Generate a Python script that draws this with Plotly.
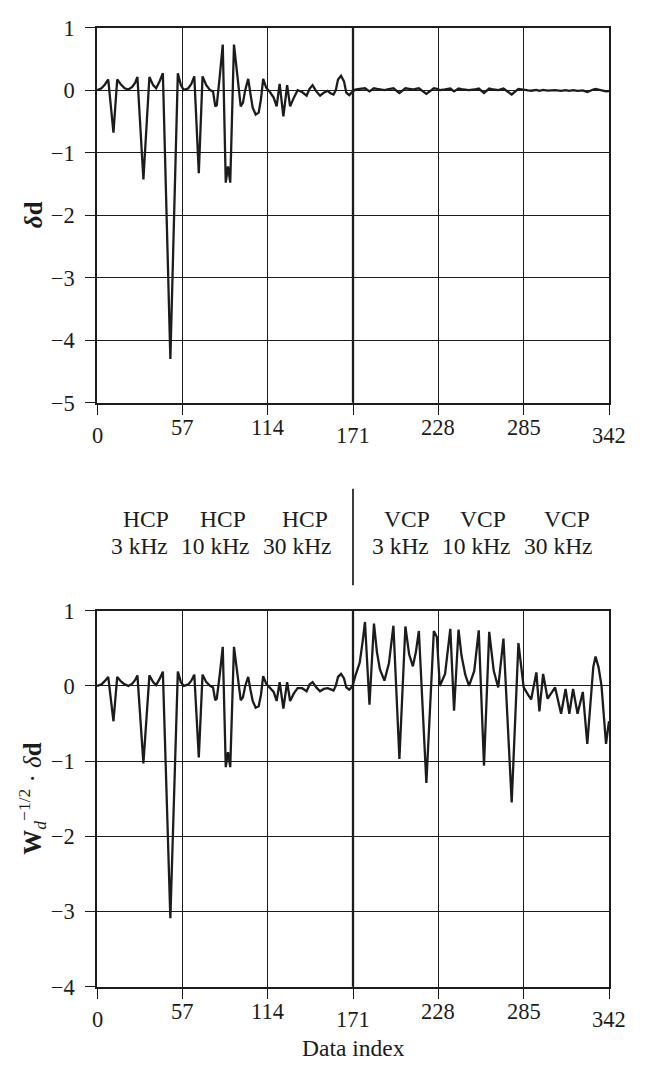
import plotly.graph_objects as go

# ---------------- data ----------------
idx = [0, 3, 5, 7.5, 11, 13.5, 16, 18.5, 21, 23.5, 25.5, 27, 31, 35, 37.5, 39.5, 42, 44, 49, 54,
       56, 58, 61, 63, 65, 68, 70.5, 73, 75.5, 77.5, 79, 80, 82, 84, 86, 87.5, 89, 91.5, 96, 97.5,
       99, 101, 102.5, 104, 106, 108, 109.5, 111, 113, 115.5, 118, 120, 122, 124.5, 127, 129, 131.5, 134, 137, 140,
       142, 144, 146.5, 149, 151.5, 154, 156, 158, 159.5, 161, 163, 165, 166.5, 168.5, 170, 171,
       172.5, 175.5, 177.5, 179, 182, 185, 187, 189, 192, 195, 198, 202, 206, 208.5, 211, 213, 215, 220, 225, 227,
       229, 232.5, 236, 238.5, 241.5, 243.5, 246, 248.5, 252, 255, 258.5, 262, 265, 268, 271.5, 277, 281.5, 285,
       288, 290, 293.5, 295.5, 298, 301, 304, 306, 310, 313, 315.5, 318, 321, 324.5, 327.5, 330, 331.5, 333,
       335, 337, 340, 342]

# residuals  delta d  (top panel)
dd = [0.0, 0.03, 0.08, 0.17, -0.68, 0.17, 0.09, 0.03, 0.01, 0.05, 0.12, 0.21, -1.43, 0.21, 0.08, 0.03, 0.15, 0.27, -4.3, 0.27,
      0.08, 0.0, 0.03, 0.1, 0.22, -1.33, 0.22, 0.08, 0.0, -0.02, -0.26, -0.24, 0.22, 0.73, -1.48, -1.22, -1.48, 0.73, -0.26, -0.2,
      0.0, 0.18, -0.06, -0.28, -0.39, -0.36, -0.15, 0.18, 0.04, -0.03, -0.12, -0.26, 0.1, -0.42, 0.08, -0.26, -0.12, 0.0, -0.03, -0.09,
      0.02, 0.08, -0.02, -0.09, -0.04, -0.01, -0.05, -0.07, 0.0, 0.17, 0.23, 0.14, -0.04, -0.08, -0.04, -0.02,
      0.01, 0.02, 0.025, 0.03, -0.02, 0.03, 0.02, 0.01, 0.0, 0.015, 0.03, -0.045, 0.03, 0.02, 0.01, 0.02, 0.03, -0.06, 0.03, 0.02,
      0.0, 0.01, 0.025, -0.02, 0.025, 0.015, 0.01, 0.0, 0.01, 0.025, -0.045, 0.025, 0.01, 0.0, 0.025, -0.07, 0.02, 0.0,
      -0.005, -0.01, 0.005, -0.012, 0.005, -0.008, -0.003, 0.0, -0.012, 0.0, -0.012, 0.0, -0.012, -0.005, -0.03, 0.0, 0.01, 0.02,
      0.01, 0.0, -0.02, -0.015]

# weighted residuals  W_d^-1/2 . delta d  (bottom panel)
wdd = [0.0, 0.02, 0.06, 0.12, -0.47, 0.12, 0.06, 0.02, 0.0, 0.03, 0.08, 0.14, -1.03, 0.14, 0.05, 0.01, 0.1, 0.19, -3.09, 0.19,
       0.05, 0.0, 0.02, 0.07, 0.15, -0.95, 0.15, 0.05, 0.0, -0.02, -0.19, -0.17, 0.15, 0.52, -1.08, -0.88, -1.08, 0.52, -0.19, -0.15,
       0.0, 0.12, -0.05, -0.2, -0.29, -0.27, -0.12, 0.13, 0.03, -0.02, -0.08, -0.2, 0.05, -0.3, 0.05, -0.2, -0.1, -0.03, -0.03, -0.07,
       0.02, 0.05, -0.02, -0.07, -0.04, -0.03, -0.05, -0.06, 0.0, 0.12, 0.16, 0.1, -0.02, -0.05, -0.02, 0.02,
       0.13, 0.31, 0.6, 0.85, -0.25, 0.83, 0.45, 0.22, 0.07, 0.3, 0.8, -0.97, 0.79, 0.42, 0.26, 0.45, 0.73, -1.29, 0.73, 0.65,
       0.0, 0.16, 0.76, -0.33, 0.75, 0.4, 0.15, 0.0, 0.2, 0.74, -1.06, 0.72, 0.2, -0.02, 0.63, -1.55, 0.57, -0.02,
       -0.12, -0.18, 0.18, -0.34, 0.16, -0.17, -0.08, -0.02, -0.37, -0.04, -0.37, -0.04, -0.37, -0.08, -0.77, -0.1, 0.25, 0.39,
       0.25, 0.0, -0.77, -0.47]

x_ticks = [0, 57, 114, 171, 228, 285, 342]
x_tick_labels = ["0", "57", "114", "171", "228", "285", "342"]
top_yticks = [1, 0, -1, -2, -3, -4, -5]
bot_yticks = [1, 0, -1, -2, -3, -4]
mode_labels = ["HCP", "HCP", "HCP", "VCP", "VCP", "VCP"]
freq_labels = ["3 kHz", "10 kHz", "30 kHz", "3 kHz", "10 kHz", "30 kHz"]

# ---------------- layout helpers ----------------
W, H = 651, 1073
def fx(p):
    return p / W
def fy(p):
    return 1 - p / H

X0, X1 = 97, 609
TOP = (16, 400)
BOT = (613, 998)

FONT = "Liberation Serif"
INK = "#1c1c1c"
TICK_SIZE = 22.5
LABEL_SIZE = 23.5

def ylab(v):
    return str(v).replace("-", "\u2212")

fig = go.Figure()
fig.add_trace(go.Scatter(x=idx, y=dd, mode="lines", line=dict(color=INK, width=2.3),
                         xaxis="x", yaxis="y", showlegend=False, hoverinfo="skip"))
fig.add_trace(go.Scatter(x=idx, y=wdd, mode="lines", line=dict(color=INK, width=2.3),
                         xaxis="x2", yaxis="y2", showlegend=False, hoverinfo="skip"))

xcommon = dict(range=[0, 342], tickvals=x_ticks, showticklabels=False, ticks="outside", ticklen=10,
               tickwidth=1.4, tickcolor=INK, showgrid=True, gridcolor=INK, gridwidth=1.4,
               showline=True, linecolor=INK, linewidth=1.7, mirror=True, zeroline=False,
               domain=[fx(X0), fx(X1)], fixedrange=True)
ycommon = dict(ticks="outside", ticklen=10, tickwidth=1.4, tickcolor=INK, showgrid=True, gridcolor=INK,
               gridwidth=1.4, showline=True, linecolor=INK, linewidth=1.7, mirror=True, zeroline=False,
               tickfont=dict(family=FONT, size=TICK_SIZE, color=INK), ticklabelstandoff=6, fixedrange=True)

fig.update_layout(
    width=W, height=H, margin=dict(l=0, r=0, t=0, b=0),
    paper_bgcolor="white", plot_bgcolor="white",
    font=dict(family=FONT, color=INK, size=TICK_SIZE),
    xaxis=dict(anchor="y", **xcommon),
    xaxis2=dict(anchor="y2", **xcommon),
    yaxis=dict(anchor="x", range=[-5, 1], tickvals=top_yticks, ticktext=[ylab(v) for v in top_yticks],
               domain=[fy(TOP[1]), fy(TOP[0])], **ycommon),
    yaxis2=dict(anchor="x2", range=[-4, 1], tickvals=bot_yticks, ticktext=[ylab(v) for v in bot_yticks],
                domain=[fy(BOT[1]), fy(BOT[0])], **ycommon),
)

# thicker divider gridline at 171 in both panels
for xr, yr in (("x", "y"), ("x2", "y2")):
    fig.add_shape(type="line", xref=xr, yref=yr + " domain", x0=171, x1=171, y0=0, y1=1,
                  line=dict(color=INK, width=2.3), layer="below")

# staggered x tick labels
hi = {57, 114, 228, 285}
for axis_bottom, xr in ((TOP[1], "x"), (BOT[1], "x2")):
    for v, t in zip(x_ticks, x_tick_labels):
        yc = axis_bottom + (25 if v in hi else 34)
        fig.add_annotation(x=v, xref=xr, y=fy(yc), yref="paper", text=t, showarrow=False,
                           xanchor="center", yanchor="middle",
                           font=dict(family=FONT, size=TICK_SIZE, color=INK))

fig.add_annotation(x=171, xref="x2", y=fy(1061), yref="paper", text="Data index", showarrow=False,
                   xanchor="center", yanchor="middle", font=dict(family=FONT, size=LABEL_SIZE, color=INK))

# y titles
fig.add_annotation(x=fx(33), xref="paper", y=fy((TOP[0] + TOP[1]) / 2), yref="paper",
                   text="<i><b>δ</b></i><b>d</b>", textangle=-90, showarrow=False,
                   xanchor="center", yanchor="middle", font=dict(family=FONT, size=25, color=INK))
fig.add_annotation(x=fx(32), xref="paper", y=fy((BOT[0] + BOT[1]) / 2), yref="paper",
                   text="<b>W</b><sub><i>d</i></sub><sup>\u22121/2</sup> · <i>δ</i><b>d</b>", textangle=-90,
                   showarrow=False, xanchor="center", yanchor="middle",
                   font=dict(family=FONT, size=25, color=INK))

# configuration labels between panels
mode_px = [145.7, 222.5, 305, 406.7, 483.3, 566.7]
freq_px = [139, 215.5, 297, 400, 476.7, 558.3]
for m, f, mx, fxp in zip(mode_labels, freq_labels, mode_px, freq_px):
    fig.add_annotation(x=fx(mx), xref="paper", y=fy(519), yref="paper", text=m, showarrow=False,
                       xanchor="center", yanchor="middle", font=dict(family=FONT, size=LABEL_SIZE, color=INK))
    fig.add_annotation(x=fx(fxp), xref="paper", y=fy(547), yref="paper", text=f, showarrow=False,
                       xanchor="center", yanchor="middle", font=dict(family=FONT, size=LABEL_SIZE, color=INK))

fig.add_shape(type="line", xref="x", yref="paper", x0=171, x1=171, y0=fy(488), y1=fy(587),
              line=dict(color=INK, width=1.7))

fig.write_html("out.html")
